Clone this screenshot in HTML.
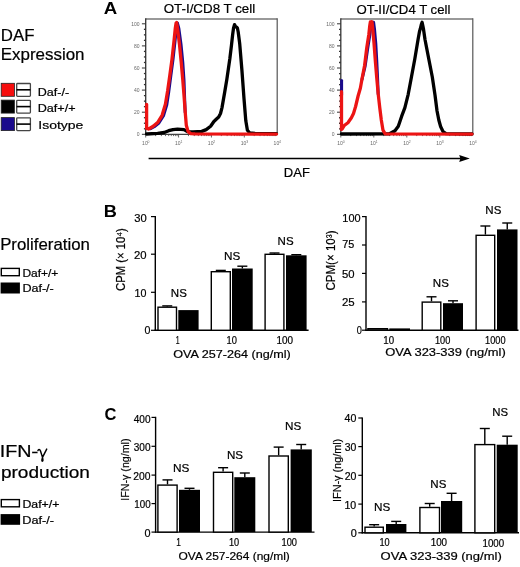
<!DOCTYPE html>
<html><head><meta charset="utf-8"><style>
html,body{margin:0;padding:0;background:#fff;}
body{width:520px;height:567px;overflow:hidden;}
svg{display:block;font-family:"Liberation Sans", sans-serif;will-change:transform;}
</style></head><body>
<svg width="520" height="567" viewBox="0 0 520 567">
<rect width="520" height="567" fill="#fff"/>
<text x="103.73" y="13.8" font-size="17.4" font-weight="bold" textLength="13.47" lengthAdjust="spacingAndGlyphs" fill="#000">A</text>
<text x="163.7" y="13.2" font-size="12.6" textLength="91.52" lengthAdjust="spacingAndGlyphs" fill="#000" stroke="#000" stroke-width="0.2">OT-I/CD8 T cell</text>
<text x="356.41" y="13.7" font-size="12.6" textLength="93.97" lengthAdjust="spacingAndGlyphs" fill="#000" stroke="#000" stroke-width="0.2">OT-II/CD4 T cell</text>
<text x="0.8" y="41.0" font-size="16" textLength="33.67" lengthAdjust="spacingAndGlyphs" fill="#000" stroke="#000" stroke-width="0.2">DAF</text>
<text x="0.75" y="60.2" font-size="15.8" textLength="83.79" lengthAdjust="spacingAndGlyphs" fill="#000" stroke="#000" stroke-width="0.2">Expression</text>
<rect x="1.2" y="83.3" width="13.2" height="13" fill="#f60e0e" stroke="#222" stroke-width="0.8"/>
<rect x="16.7" y="83.5" width="13.7" height="12.8" rx="0.8" fill="#fff" stroke="#444" stroke-width="1.3"/>
<line x1="16.6" x2="30.4" y1="89.8" y2="89.8" stroke="#000" stroke-width="1.6"/>
<rect x="1.2" y="100.1" width="13.2" height="13" fill="#000" stroke="#222" stroke-width="0.8"/>
<rect x="16.7" y="100.3" width="13.7" height="12.8" rx="0.8" fill="#fff" stroke="#444" stroke-width="1.3"/>
<line x1="16.6" x2="30.4" y1="106.6" y2="106.6" stroke="#000" stroke-width="1.6"/>
<rect x="1.2" y="117.6" width="13.2" height="13" fill="#1a0a8c" stroke="#222" stroke-width="0.8"/>
<rect x="16.7" y="117.8" width="13.7" height="12.8" rx="0.8" fill="#fff" stroke="#444" stroke-width="1.3"/>
<line x1="16.6" x2="30.4" y1="124.1" y2="124.1" stroke="#000" stroke-width="1.6"/>
<text x="37.8" y="95.5" font-size="10.6" textLength="31.26" lengthAdjust="spacingAndGlyphs" fill="#000" stroke="#000" stroke-width="0.2">Daf-/-</text>
<text x="37.79" y="112.0" font-size="10.6" textLength="37.8" lengthAdjust="spacingAndGlyphs" fill="#000" stroke="#000" stroke-width="0.2">Daf+/+</text>
<text x="38.24" y="128.8" font-size="11.2" textLength="45.18" lengthAdjust="spacingAndGlyphs" fill="#000" stroke="#000" stroke-width="0.2">Isotype</text>
<line x1="145.7" y1="18.9" x2="277.2" y2="18.9" stroke="#777" stroke-width="1.5"/>
<line x1="277.2" y1="18.2" x2="277.2" y2="134.3" stroke="#555" stroke-width="1.2"/>
<line x1="145.7" y1="18.2" x2="145.7" y2="134.9" stroke="#333" stroke-width="1.3"/>
<line x1="145.1" y1="134.3" x2="277.2" y2="134.3" stroke="#444" stroke-width="1.2"/>
<line x1="141.89999999999998" x2="145.7" y1="134.30" y2="134.30" stroke="#333" stroke-width="1"/>
<text x="139.5" y="136.2" font-size="5.0" text-anchor="end" fill="#666">0</text>
<line x1="143.89999999999998" x2="145.7" y1="128.78" y2="128.78" stroke="#333" stroke-width="1.3"/>
<line x1="143.89999999999998" x2="145.7" y1="123.25" y2="123.25" stroke="#333" stroke-width="1.3"/>
<line x1="143.89999999999998" x2="145.7" y1="117.73" y2="117.73" stroke="#333" stroke-width="1.3"/>
<line x1="141.89999999999998" x2="145.7" y1="112.20" y2="112.20" stroke="#333" stroke-width="1"/>
<text x="139.5" y="114.1" font-size="5.0" text-anchor="end" fill="#666">20</text>
<line x1="143.89999999999998" x2="145.7" y1="106.68" y2="106.68" stroke="#333" stroke-width="1.3"/>
<line x1="143.89999999999998" x2="145.7" y1="101.15" y2="101.15" stroke="#333" stroke-width="1.3"/>
<line x1="143.89999999999998" x2="145.7" y1="95.63" y2="95.63" stroke="#333" stroke-width="1.3"/>
<line x1="141.89999999999998" x2="145.7" y1="90.10" y2="90.10" stroke="#333" stroke-width="1"/>
<text x="139.5" y="92.0" font-size="5.0" text-anchor="end" fill="#666">40</text>
<line x1="143.89999999999998" x2="145.7" y1="84.58" y2="84.58" stroke="#333" stroke-width="1.3"/>
<line x1="143.89999999999998" x2="145.7" y1="79.05" y2="79.05" stroke="#333" stroke-width="1.3"/>
<line x1="143.89999999999998" x2="145.7" y1="73.53" y2="73.53" stroke="#333" stroke-width="1.3"/>
<line x1="141.89999999999998" x2="145.7" y1="68.00" y2="68.00" stroke="#333" stroke-width="1"/>
<text x="139.5" y="69.9" font-size="5.0" text-anchor="end" fill="#666">60</text>
<line x1="143.89999999999998" x2="145.7" y1="62.48" y2="62.48" stroke="#333" stroke-width="1.3"/>
<line x1="143.89999999999998" x2="145.7" y1="56.95" y2="56.95" stroke="#333" stroke-width="1.3"/>
<line x1="143.89999999999998" x2="145.7" y1="51.43" y2="51.43" stroke="#333" stroke-width="1.3"/>
<line x1="141.89999999999998" x2="145.7" y1="45.90" y2="45.90" stroke="#333" stroke-width="1"/>
<text x="139.5" y="47.8" font-size="5.0" text-anchor="end" fill="#666">80</text>
<line x1="143.89999999999998" x2="145.7" y1="40.38" y2="40.38" stroke="#333" stroke-width="1.3"/>
<line x1="143.89999999999998" x2="145.7" y1="34.85" y2="34.85" stroke="#333" stroke-width="1.3"/>
<line x1="143.89999999999998" x2="145.7" y1="29.33" y2="29.33" stroke="#333" stroke-width="1.3"/>
<line x1="141.89999999999998" x2="145.7" y1="23.80" y2="23.80" stroke="#333" stroke-width="1"/>
<text x="139.5" y="25.7" font-size="5.0" text-anchor="end" fill="#666">100</text>
<line x1="145.70" x2="145.70" y1="134.3" y2="137.5" stroke="#444" stroke-width="0.8"/>
<line x1="155.60" x2="155.60" y1="134.3" y2="136.10000000000002" stroke="#444" stroke-width="0.8"/>
<line x1="161.39" x2="161.39" y1="134.3" y2="136.10000000000002" stroke="#444" stroke-width="0.8"/>
<line x1="165.49" x2="165.49" y1="134.3" y2="136.10000000000002" stroke="#444" stroke-width="0.8"/>
<line x1="168.68" x2="168.68" y1="134.3" y2="136.10000000000002" stroke="#444" stroke-width="0.8"/>
<line x1="171.28" x2="171.28" y1="134.3" y2="136.10000000000002" stroke="#444" stroke-width="0.8"/>
<line x1="173.48" x2="173.48" y1="134.3" y2="136.10000000000002" stroke="#444" stroke-width="0.8"/>
<line x1="175.39" x2="175.39" y1="134.3" y2="136.10000000000002" stroke="#444" stroke-width="0.8"/>
<line x1="177.07" x2="177.07" y1="134.3" y2="136.10000000000002" stroke="#444" stroke-width="0.8"/>
<line x1="178.57" x2="178.57" y1="134.3" y2="137.5" stroke="#444" stroke-width="0.8"/>
<line x1="188.47" x2="188.47" y1="134.3" y2="136.10000000000002" stroke="#444" stroke-width="0.8"/>
<line x1="194.26" x2="194.26" y1="134.3" y2="136.10000000000002" stroke="#444" stroke-width="0.8"/>
<line x1="198.37" x2="198.37" y1="134.3" y2="136.10000000000002" stroke="#444" stroke-width="0.8"/>
<line x1="201.55" x2="201.55" y1="134.3" y2="136.10000000000002" stroke="#444" stroke-width="0.8"/>
<line x1="204.16" x2="204.16" y1="134.3" y2="136.10000000000002" stroke="#444" stroke-width="0.8"/>
<line x1="206.36" x2="206.36" y1="134.3" y2="136.10000000000002" stroke="#444" stroke-width="0.8"/>
<line x1="208.26" x2="208.26" y1="134.3" y2="136.10000000000002" stroke="#444" stroke-width="0.8"/>
<line x1="209.95" x2="209.95" y1="134.3" y2="136.10000000000002" stroke="#444" stroke-width="0.8"/>
<line x1="211.45" x2="211.45" y1="134.3" y2="137.5" stroke="#444" stroke-width="0.8"/>
<line x1="221.35" x2="221.35" y1="134.3" y2="136.10000000000002" stroke="#444" stroke-width="0.8"/>
<line x1="227.14" x2="227.14" y1="134.3" y2="136.10000000000002" stroke="#444" stroke-width="0.8"/>
<line x1="231.24" x2="231.24" y1="134.3" y2="136.10000000000002" stroke="#444" stroke-width="0.8"/>
<line x1="234.43" x2="234.43" y1="134.3" y2="136.10000000000002" stroke="#444" stroke-width="0.8"/>
<line x1="237.03" x2="237.03" y1="134.3" y2="136.10000000000002" stroke="#444" stroke-width="0.8"/>
<line x1="239.23" x2="239.23" y1="134.3" y2="136.10000000000002" stroke="#444" stroke-width="0.8"/>
<line x1="241.14" x2="241.14" y1="134.3" y2="136.10000000000002" stroke="#444" stroke-width="0.8"/>
<line x1="242.82" x2="242.82" y1="134.3" y2="136.10000000000002" stroke="#444" stroke-width="0.8"/>
<line x1="244.32" x2="244.32" y1="134.3" y2="137.5" stroke="#444" stroke-width="0.8"/>
<line x1="254.22" x2="254.22" y1="134.3" y2="136.10000000000002" stroke="#444" stroke-width="0.8"/>
<line x1="260.01" x2="260.01" y1="134.3" y2="136.10000000000002" stroke="#444" stroke-width="0.8"/>
<line x1="264.12" x2="264.12" y1="134.3" y2="136.10000000000002" stroke="#444" stroke-width="0.8"/>
<line x1="267.30" x2="267.30" y1="134.3" y2="136.10000000000002" stroke="#444" stroke-width="0.8"/>
<line x1="269.91" x2="269.91" y1="134.3" y2="136.10000000000002" stroke="#444" stroke-width="0.8"/>
<line x1="272.11" x2="272.11" y1="134.3" y2="136.10000000000002" stroke="#444" stroke-width="0.8"/>
<line x1="274.01" x2="274.01" y1="134.3" y2="136.10000000000002" stroke="#444" stroke-width="0.8"/>
<line x1="275.70" x2="275.70" y1="134.3" y2="136.10000000000002" stroke="#444" stroke-width="0.8"/>
<text x="144.9" y="145.1" font-size="5.0" text-anchor="middle" fill="#666">10</text>
<text x="148.5" y="142.7" font-size="3.4" text-anchor="middle" fill="#666">0</text>
<text x="177.77" y="145.1" font-size="5.0" text-anchor="middle" fill="#666">10</text>
<text x="181.38" y="142.7" font-size="3.4" text-anchor="middle" fill="#666">1</text>
<text x="210.65" y="145.1" font-size="5.0" text-anchor="middle" fill="#666">10</text>
<text x="214.25" y="142.7" font-size="3.4" text-anchor="middle" fill="#666">2</text>
<text x="243.52" y="145.1" font-size="5.0" text-anchor="middle" fill="#666">10</text>
<text x="247.12" y="142.7" font-size="3.4" text-anchor="middle" fill="#666">3</text>
<text x="276.4" y="145.1" font-size="5.0" text-anchor="middle" fill="#666">10</text>
<text x="280.0" y="142.7" font-size="3.4" text-anchor="middle" fill="#666">4</text>
<line x1="340.8" y1="19.0" x2="472.8" y2="19.0" stroke="#777" stroke-width="1.5"/>
<line x1="472.8" y1="18.3" x2="472.8" y2="134.3" stroke="#555" stroke-width="1.2"/>
<line x1="340.8" y1="18.3" x2="340.8" y2="134.9" stroke="#333" stroke-width="1.3"/>
<line x1="340.2" y1="134.3" x2="472.8" y2="134.3" stroke="#444" stroke-width="1.2"/>
<line x1="337.0" x2="340.8" y1="134.30" y2="134.30" stroke="#333" stroke-width="1"/>
<text x="334.6" y="136.2" font-size="5.0" text-anchor="end" fill="#666">0</text>
<line x1="339.0" x2="340.8" y1="128.78" y2="128.78" stroke="#333" stroke-width="1.3"/>
<line x1="339.0" x2="340.8" y1="123.25" y2="123.25" stroke="#333" stroke-width="1.3"/>
<line x1="339.0" x2="340.8" y1="117.73" y2="117.73" stroke="#333" stroke-width="1.3"/>
<line x1="337.0" x2="340.8" y1="112.20" y2="112.20" stroke="#333" stroke-width="1"/>
<text x="334.6" y="114.1" font-size="5.0" text-anchor="end" fill="#666">20</text>
<line x1="339.0" x2="340.8" y1="106.68" y2="106.68" stroke="#333" stroke-width="1.3"/>
<line x1="339.0" x2="340.8" y1="101.15" y2="101.15" stroke="#333" stroke-width="1.3"/>
<line x1="339.0" x2="340.8" y1="95.63" y2="95.63" stroke="#333" stroke-width="1.3"/>
<line x1="337.0" x2="340.8" y1="90.10" y2="90.10" stroke="#333" stroke-width="1"/>
<text x="334.6" y="92.0" font-size="5.0" text-anchor="end" fill="#666">40</text>
<line x1="339.0" x2="340.8" y1="84.58" y2="84.58" stroke="#333" stroke-width="1.3"/>
<line x1="339.0" x2="340.8" y1="79.05" y2="79.05" stroke="#333" stroke-width="1.3"/>
<line x1="339.0" x2="340.8" y1="73.53" y2="73.53" stroke="#333" stroke-width="1.3"/>
<line x1="337.0" x2="340.8" y1="68.00" y2="68.00" stroke="#333" stroke-width="1"/>
<text x="334.6" y="69.9" font-size="5.0" text-anchor="end" fill="#666">60</text>
<line x1="339.0" x2="340.8" y1="62.48" y2="62.48" stroke="#333" stroke-width="1.3"/>
<line x1="339.0" x2="340.8" y1="56.95" y2="56.95" stroke="#333" stroke-width="1.3"/>
<line x1="339.0" x2="340.8" y1="51.43" y2="51.43" stroke="#333" stroke-width="1.3"/>
<line x1="337.0" x2="340.8" y1="45.90" y2="45.90" stroke="#333" stroke-width="1"/>
<text x="334.6" y="47.8" font-size="5.0" text-anchor="end" fill="#666">80</text>
<line x1="339.0" x2="340.8" y1="40.38" y2="40.38" stroke="#333" stroke-width="1.3"/>
<line x1="339.0" x2="340.8" y1="34.85" y2="34.85" stroke="#333" stroke-width="1.3"/>
<line x1="339.0" x2="340.8" y1="29.33" y2="29.33" stroke="#333" stroke-width="1.3"/>
<line x1="337.0" x2="340.8" y1="23.80" y2="23.80" stroke="#333" stroke-width="1"/>
<text x="334.6" y="25.7" font-size="5.0" text-anchor="end" fill="#666">100</text>
<line x1="340.80" x2="340.80" y1="134.3" y2="137.5" stroke="#444" stroke-width="0.8"/>
<line x1="350.73" x2="350.73" y1="134.3" y2="136.10000000000002" stroke="#444" stroke-width="0.8"/>
<line x1="356.55" x2="356.55" y1="134.3" y2="136.10000000000002" stroke="#444" stroke-width="0.8"/>
<line x1="360.67" x2="360.67" y1="134.3" y2="136.10000000000002" stroke="#444" stroke-width="0.8"/>
<line x1="363.87" x2="363.87" y1="134.3" y2="136.10000000000002" stroke="#444" stroke-width="0.8"/>
<line x1="366.48" x2="366.48" y1="134.3" y2="136.10000000000002" stroke="#444" stroke-width="0.8"/>
<line x1="368.69" x2="368.69" y1="134.3" y2="136.10000000000002" stroke="#444" stroke-width="0.8"/>
<line x1="370.60" x2="370.60" y1="134.3" y2="136.10000000000002" stroke="#444" stroke-width="0.8"/>
<line x1="372.29" x2="372.29" y1="134.3" y2="136.10000000000002" stroke="#444" stroke-width="0.8"/>
<line x1="373.80" x2="373.80" y1="134.3" y2="137.5" stroke="#444" stroke-width="0.8"/>
<line x1="383.73" x2="383.73" y1="134.3" y2="136.10000000000002" stroke="#444" stroke-width="0.8"/>
<line x1="389.55" x2="389.55" y1="134.3" y2="136.10000000000002" stroke="#444" stroke-width="0.8"/>
<line x1="393.67" x2="393.67" y1="134.3" y2="136.10000000000002" stroke="#444" stroke-width="0.8"/>
<line x1="396.87" x2="396.87" y1="134.3" y2="136.10000000000002" stroke="#444" stroke-width="0.8"/>
<line x1="399.48" x2="399.48" y1="134.3" y2="136.10000000000002" stroke="#444" stroke-width="0.8"/>
<line x1="401.69" x2="401.69" y1="134.3" y2="136.10000000000002" stroke="#444" stroke-width="0.8"/>
<line x1="403.60" x2="403.60" y1="134.3" y2="136.10000000000002" stroke="#444" stroke-width="0.8"/>
<line x1="405.29" x2="405.29" y1="134.3" y2="136.10000000000002" stroke="#444" stroke-width="0.8"/>
<line x1="406.80" x2="406.80" y1="134.3" y2="137.5" stroke="#444" stroke-width="0.8"/>
<line x1="416.73" x2="416.73" y1="134.3" y2="136.10000000000002" stroke="#444" stroke-width="0.8"/>
<line x1="422.55" x2="422.55" y1="134.3" y2="136.10000000000002" stroke="#444" stroke-width="0.8"/>
<line x1="426.67" x2="426.67" y1="134.3" y2="136.10000000000002" stroke="#444" stroke-width="0.8"/>
<line x1="429.87" x2="429.87" y1="134.3" y2="136.10000000000002" stroke="#444" stroke-width="0.8"/>
<line x1="432.48" x2="432.48" y1="134.3" y2="136.10000000000002" stroke="#444" stroke-width="0.8"/>
<line x1="434.69" x2="434.69" y1="134.3" y2="136.10000000000002" stroke="#444" stroke-width="0.8"/>
<line x1="436.60" x2="436.60" y1="134.3" y2="136.10000000000002" stroke="#444" stroke-width="0.8"/>
<line x1="438.29" x2="438.29" y1="134.3" y2="136.10000000000002" stroke="#444" stroke-width="0.8"/>
<line x1="439.80" x2="439.80" y1="134.3" y2="137.5" stroke="#444" stroke-width="0.8"/>
<line x1="449.73" x2="449.73" y1="134.3" y2="136.10000000000002" stroke="#444" stroke-width="0.8"/>
<line x1="455.55" x2="455.55" y1="134.3" y2="136.10000000000002" stroke="#444" stroke-width="0.8"/>
<line x1="459.67" x2="459.67" y1="134.3" y2="136.10000000000002" stroke="#444" stroke-width="0.8"/>
<line x1="462.87" x2="462.87" y1="134.3" y2="136.10000000000002" stroke="#444" stroke-width="0.8"/>
<line x1="465.48" x2="465.48" y1="134.3" y2="136.10000000000002" stroke="#444" stroke-width="0.8"/>
<line x1="467.69" x2="467.69" y1="134.3" y2="136.10000000000002" stroke="#444" stroke-width="0.8"/>
<line x1="469.60" x2="469.60" y1="134.3" y2="136.10000000000002" stroke="#444" stroke-width="0.8"/>
<line x1="471.29" x2="471.29" y1="134.3" y2="136.10000000000002" stroke="#444" stroke-width="0.8"/>
<text x="340.0" y="145.1" font-size="5.0" text-anchor="middle" fill="#666">10</text>
<text x="343.6" y="142.7" font-size="3.4" text-anchor="middle" fill="#666">0</text>
<text x="373.0" y="145.1" font-size="5.0" text-anchor="middle" fill="#666">10</text>
<text x="376.6" y="142.7" font-size="3.4" text-anchor="middle" fill="#666">1</text>
<text x="406.0" y="145.1" font-size="5.0" text-anchor="middle" fill="#666">10</text>
<text x="409.6" y="142.7" font-size="3.4" text-anchor="middle" fill="#666">2</text>
<text x="439.0" y="145.1" font-size="5.0" text-anchor="middle" fill="#666">10</text>
<text x="442.6" y="142.7" font-size="3.4" text-anchor="middle" fill="#666">3</text>
<text x="472.0" y="145.1" font-size="5.0" text-anchor="middle" fill="#666">10</text>
<text x="475.6" y="142.7" font-size="3.4" text-anchor="middle" fill="#666">4</text>
<polyline points="146.5,134.0 157.6,133.4 164.3,132.5 168.7,130.7 173.0,129.6 177.5,129.2 184.0,129.6 187.4,131.6 193.0,131.8 201.8,131.4 206.2,129.6 210.6,126.3 213.9,121.5 216.5,119.0 218.7,117.0 220.5,113.5 222.0,107.6 224.7,92.1 226.9,78.9 229.8,59.0 231.5,45.0 232.6,35.0 233.5,28.2 234.5,24.6 235.5,26.5 236.4,27.1 237.4,28.0 238.2,32.0 239.7,43.6 241.9,70.0 244.0,98.7 245.8,120.8 247.4,130.2 249.6,132.8 255.0,133.4 276.5,133.6" fill="none" stroke="#000" stroke-width="3.3" stroke-linejoin="round" stroke-linecap="round"/>
<polyline points="150.5,128.6 154.2,126.7 158.9,123.0 163.5,115.7 166.8,104.7 168.8,91.5 170.8,76.0 173.0,59.5 175.2,39.6 176.3,28.6 176.9,23.4 177.4,23.0 178.9,28.6 181.0,44.1 182.8,62.4 184.0,80.4 184.6,97.0 185.2,112.4" fill="none" stroke="#1a0a8c" stroke-width="3.0" stroke-linejoin="round" stroke-linecap="round"/>
<polyline points="146.6,104.3 146.6,128.5 148.5,129.0 149.9,128.2 153.2,126.3 157.6,122.6 162.1,115.3 165.4,104.3 167.6,91.1 169.8,75.6 172.0,59.1 174.2,39.2 175.3,28.2 176.1,23.0 176.6,22.6 177.5,28.2 179.4,43.7 181.2,62.0 182.8,80.0 184.1,96.6 185.2,112.0 186.3,125.2 188.1,131.6 190.7,133.6 195.0,133.9 276.5,134.1" fill="none" stroke="#ec1414" stroke-width="3.3" stroke-linejoin="round" stroke-linecap="round"/>
<polyline points="341.5,134.0 389.6,133.8 395.0,130.7 398.3,126.3 401.6,116.4 404.9,107.6 408.2,94.3 411.5,76.7 414.8,59.0 418.1,39.2 419.5,31.5 420.4,28.5 421.3,24.5 422.1,22.3 422.8,25.5 423.4,28.5 425.0,39.5 428.0,55.0 432.3,77.0 435.0,95.0 437.0,110.8 438.8,120.0 440.6,126.5 443.0,131.5 446.0,133.6 472.0,134.0" fill="none" stroke="#000" stroke-width="3.3" stroke-linejoin="round" stroke-linecap="round"/>
<polyline points="341.6,80.4 341.6,95.0" fill="none" stroke="#1a0a8c" stroke-width="3.0" stroke-linejoin="round" stroke-linecap="round"/>
<polyline points="362.0,79.4 365.2,65.9 367.8,47.8 369.8,35.1 371.0,25.9 371.8,22.2 372.8,25.4 373.6,22.2 374.5,28.9 375.8,43.6 376.8,61.9 377.6,78.8 378.2,94.3" fill="none" stroke="#1a0a8c" stroke-width="3.0" stroke-linejoin="round" stroke-linecap="round"/>
<polyline points="341.5,91.7 341.5,129.5 342.2,129.0 344.3,125.5 347.9,122.7 351.4,117.7 353.5,113.5 355.6,106.5 358.1,96.0 360.4,88.0 362.0,79.0 364.6,65.5 366.8,47.4 368.8,34.7 369.8,25.5 370.4,21.8 371.2,25.0 372.0,21.8 372.7,28.5 374.0,43.2 375.4,61.5 376.8,78.4 378.2,93.9 379.8,108.0 381.3,120.0 383.0,130.2 385.2,133.8 472.0,134.1" fill="none" stroke="#ec1414" stroke-width="3.3" stroke-linejoin="round" stroke-linecap="round"/>
<line x1="148.6" y1="158.5" x2="461" y2="158.5" stroke="#000" stroke-width="1.7"/>
<polygon points="459.2,155.0 469.8,158.5 459.2,162.0 460.4,158.5" fill="#000"/>
<text x="283.86" y="177.3" font-size="13.4" textLength="26.06" lengthAdjust="spacingAndGlyphs" fill="#000" stroke="#000" stroke-width="0.2">DAF</text>
<text x="103.72" y="216.8" font-size="17.4" font-weight="bold" textLength="13.14" lengthAdjust="spacingAndGlyphs" fill="#000">B</text>
<text x="0.15" y="249.8" font-size="16.2" textLength="89.76" lengthAdjust="spacingAndGlyphs" fill="#000" stroke="#000" stroke-width="0.2">Proliferation</text>
<rect x="1.3" y="268.4" width="18.0" height="7.3" fill="#fff" stroke="#000" stroke-width="1.4"/>
<rect x="0.6" y="282.5" width="19.3" height="11.0" fill="#000"/>
<text x="22.44" y="276.9" font-size="10.0" textLength="35.92" lengthAdjust="spacingAndGlyphs" fill="#000" stroke="#000" stroke-width="0.2">Daf+/+</text>
<text x="22.4" y="292.1" font-size="10.0" textLength="31.37" lengthAdjust="spacingAndGlyphs" fill="#000" stroke="#000" stroke-width="0.2">Daf-/-</text>
<line x1="155.3" y1="216.0" x2="155.3" y2="330.90000000000003" stroke="#000" stroke-width="1.4"/>
<line x1="154.60000000000002" y1="330.3" x2="308.6" y2="330.3" stroke="#000" stroke-width="1.4"/>
<line x1="151.0" y1="216.6" x2="155.3" y2="216.6" stroke="#000" stroke-width="1.2"/>
<line x1="151.0" y1="254.2" x2="155.3" y2="254.2" stroke="#000" stroke-width="1.2"/>
<line x1="151.0" y1="292.3" x2="155.3" y2="292.3" stroke="#000" stroke-width="1.2"/>
<line x1="151.0" y1="330.3" x2="155.3" y2="330.3" stroke="#000" stroke-width="1.2"/>
<line x1="167.25" y1="306.5" x2="167.25" y2="305.9" stroke="#000" stroke-width="1.4"/>
<line x1="162.25" y1="305.9" x2="172.25" y2="305.9" stroke="#000" stroke-width="1.4"/>
<rect x="158.00" y="307.20" width="18.50" height="23.10" fill="#fff" stroke="#000" stroke-width="1.4"/>
<rect x="178.3" y="310.1" width="20.30" height="20.20" fill="#000"/>
<line x1="220.80" y1="271.0" x2="220.80" y2="270.4" stroke="#000" stroke-width="1.4"/>
<line x1="215.80" y1="270.4" x2="225.80" y2="270.4" stroke="#000" stroke-width="1.4"/>
<rect x="211.30" y="271.70" width="19.00" height="58.60" fill="#fff" stroke="#000" stroke-width="1.4"/>
<line x1="242.35" y1="268.5" x2="242.35" y2="266.2" stroke="#000" stroke-width="1.4"/>
<line x1="237.35" y1="266.2" x2="247.35" y2="266.2" stroke="#000" stroke-width="1.4"/>
<rect x="232.0" y="268.5" width="20.70" height="61.80" fill="#000"/>
<line x1="274.50" y1="253.6" x2="274.50" y2="253.0" stroke="#000" stroke-width="1.4"/>
<line x1="269.50" y1="253.0" x2="279.50" y2="253.0" stroke="#000" stroke-width="1.4"/>
<rect x="265.10" y="254.30" width="18.80" height="76.00" fill="#fff" stroke="#000" stroke-width="1.4"/>
<line x1="296.30" y1="255.3" x2="296.30" y2="254.7" stroke="#000" stroke-width="1.4"/>
<line x1="291.30" y1="254.7" x2="301.30" y2="254.7" stroke="#000" stroke-width="1.4"/>
<rect x="286.0" y="255.3" width="20.60" height="75.00" fill="#000"/>
<text x="134.25" y="221.8" font-size="10.8" textLength="12.47" lengthAdjust="spacingAndGlyphs" fill="#000" stroke="#000" stroke-width="0.2">30</text>
<text x="133.93" y="258.5" font-size="10.8" textLength="12.59" lengthAdjust="spacingAndGlyphs" fill="#000" stroke="#000" stroke-width="0.2">20</text>
<text x="134.6" y="297.3" font-size="10.8" textLength="11.9" lengthAdjust="spacingAndGlyphs" fill="#000" stroke="#000" stroke-width="0.2">10</text>
<text x="144.48" y="334.3" font-size="10.8" textLength="5.91" lengthAdjust="spacingAndGlyphs" fill="#000" stroke="#000" stroke-width="0.2">0</text>
<text x="170.83" y="297.25" font-size="10.8" textLength="15.99" lengthAdjust="spacingAndGlyphs" fill="#000" stroke="#000" stroke-width="0.2">NS</text>
<text x="224.06" y="260.0" font-size="10.8" textLength="16.26" lengthAdjust="spacingAndGlyphs" fill="#000" stroke="#000" stroke-width="0.2">NS</text>
<text x="277.58" y="244.75" font-size="10.8" textLength="15.99" lengthAdjust="spacingAndGlyphs" fill="#000" stroke="#000" stroke-width="0.2">NS</text>
<text x="175.68" y="344.0" font-size="10" textLength="3.84" lengthAdjust="spacingAndGlyphs" fill="#000" stroke="#000" stroke-width="0.2">1</text>
<text x="226.5" y="344.0" font-size="10" textLength="10.34" lengthAdjust="spacingAndGlyphs" fill="#000" stroke="#000" stroke-width="0.2">10</text>
<text x="276.56" y="343.9" font-size="10" textLength="16.52" lengthAdjust="spacingAndGlyphs" fill="#000" stroke="#000" stroke-width="0.2">100</text>
<text x="173.28" y="357.7" font-size="11.2" textLength="117.53" lengthAdjust="spacingAndGlyphs" fill="#000" stroke="#000" stroke-width="0.2">OVA 257-264 (ng/ml)</text>
<text transform="translate(124.60,290.96) rotate(-90)" x="0" y="0" font-size="12" textLength="62.80" lengthAdjust="spacingAndGlyphs" fill="#000" stroke="#000" stroke-width="0.2">CPM (× 10⁴)</text>
<line x1="366.0" y1="216.0" x2="366.0" y2="330.8" stroke="#000" stroke-width="1.4"/>
<line x1="365.3" y1="330.2" x2="518.5" y2="330.2" stroke="#000" stroke-width="1.4"/>
<line x1="362.0" y1="216.6" x2="366.0" y2="216.6" stroke="#000" stroke-width="1.2"/>
<line x1="362.0" y1="245.0" x2="366.0" y2="245.0" stroke="#000" stroke-width="1.2"/>
<line x1="362.0" y1="273.4" x2="366.0" y2="273.4" stroke="#000" stroke-width="1.2"/>
<line x1="362.0" y1="301.9" x2="366.0" y2="301.9" stroke="#000" stroke-width="1.2"/>
<line x1="362.0" y1="330.2" x2="366.0" y2="330.2" stroke="#000" stroke-width="1.2"/>
<rect x="367.90" y="328.70" width="19.60" height="1.50" fill="#fff" stroke="#000" stroke-width="1.4"/>
<rect x="389.3" y="328.4" width="20.70" height="1.80" fill="#000"/>
<line x1="431.50" y1="301.4" x2="431.50" y2="296.8" stroke="#000" stroke-width="1.4"/>
<line x1="426.50" y1="296.8" x2="436.50" y2="296.8" stroke="#000" stroke-width="1.4"/>
<rect x="422.20" y="302.10" width="18.60" height="28.10" fill="#fff" stroke="#000" stroke-width="1.4"/>
<line x1="453.00" y1="303.2" x2="453.00" y2="300.8" stroke="#000" stroke-width="1.4"/>
<line x1="448.00" y1="300.8" x2="458.00" y2="300.8" stroke="#000" stroke-width="1.4"/>
<rect x="443.0" y="303.2" width="20.00" height="27.00" fill="#000"/>
<line x1="485.40" y1="234.6" x2="485.40" y2="226.0" stroke="#000" stroke-width="1.4"/>
<line x1="480.40" y1="226.0" x2="490.40" y2="226.0" stroke="#000" stroke-width="1.4"/>
<rect x="476.10" y="235.30" width="18.60" height="94.90" fill="#fff" stroke="#000" stroke-width="1.4"/>
<line x1="507.25" y1="229.4" x2="507.25" y2="223.0" stroke="#000" stroke-width="1.4"/>
<line x1="502.25" y1="223.0" x2="512.25" y2="223.0" stroke="#000" stroke-width="1.4"/>
<rect x="497.0" y="229.4" width="20.50" height="100.80" fill="#000"/>
<text x="342.38" y="221.9" font-size="10.8" textLength="18.24" lengthAdjust="spacingAndGlyphs" fill="#000" stroke="#000" stroke-width="0.2">100</text>
<text x="342.26" y="248.4" font-size="10.8" textLength="12.1" lengthAdjust="spacingAndGlyphs" fill="#000" stroke="#000" stroke-width="0.2">75</text>
<text x="342.05" y="277.6" font-size="10.8" textLength="12.57" lengthAdjust="spacingAndGlyphs" fill="#000" stroke="#000" stroke-width="0.2">50</text>
<text x="341.93" y="306.3" font-size="10.8" textLength="12.76" lengthAdjust="spacingAndGlyphs" fill="#000" stroke="#000" stroke-width="0.2">25</text>
<text x="356.63" y="334.1" font-size="10.8" textLength="5.1" lengthAdjust="spacingAndGlyphs" fill="#000" stroke="#000" stroke-width="0.2">0</text>
<text x="432.83" y="286.75" font-size="10.8" textLength="15.99" lengthAdjust="spacingAndGlyphs" fill="#000" stroke="#000" stroke-width="0.2">NS</text>
<text x="485.33" y="213.75" font-size="10.8" textLength="15.99" lengthAdjust="spacingAndGlyphs" fill="#000" stroke="#000" stroke-width="0.2">NS</text>
<text x="383.27" y="344.0" font-size="10" textLength="10.79" lengthAdjust="spacingAndGlyphs" fill="#000" stroke="#000" stroke-width="0.2">10</text>
<text x="435.01" y="344.0" font-size="10" textLength="15.34" lengthAdjust="spacingAndGlyphs" fill="#000" stroke="#000" stroke-width="0.2">100</text>
<text x="485.11" y="344.0" font-size="10" textLength="20.41" lengthAdjust="spacingAndGlyphs" fill="#000" stroke="#000" stroke-width="0.2">1000</text>
<text x="385.27" y="355.8" font-size="11.4" textLength="120.47" lengthAdjust="spacingAndGlyphs" fill="#000" stroke="#000" stroke-width="0.2">OVA 323-339 (ng/ml)</text>
<text transform="translate(334.60,290.58) rotate(-90)" x="0" y="0" font-size="12" textLength="60.08" lengthAdjust="spacingAndGlyphs" fill="#000" stroke="#000" stroke-width="0.2">CPM(× 10³)</text>
<text x="104.54" y="420.3" font-size="17.4" font-weight="bold" textLength="11.91" lengthAdjust="spacingAndGlyphs" fill="#000">C</text>
<text x="-0.27" y="457.0" font-size="16.2" textLength="31.77" lengthAdjust="spacingAndGlyphs" fill="#000" stroke="#000" stroke-width="0.2">IFN</text>
<text x="31.24" y="457.0" font-size="16.2" textLength="7.07" lengthAdjust="spacingAndGlyphs" fill="#000" stroke="#000" stroke-width="0.2">-</text>
<path d="M37.9 450.6 C38.4 449.0 39.7 448.9 40.5 451.0 L42.5 457.4 M46.7 449.1 L42.5 457.4 L41.9 460.0 C41.7 461.2 42.7 461.6 42.9 460.5 C43.0 459.5 42.7 458.3 42.5 457.4" fill="none" stroke="#000" stroke-width="1.45" stroke-linejoin="round" stroke-linecap="round"/>
<text x="0.96" y="477.5" font-size="16" textLength="88.88" lengthAdjust="spacingAndGlyphs" fill="#000" stroke="#000" stroke-width="0.2">production</text>
<rect x="1.3" y="499.6" width="18.1" height="7.2" fill="#fff" stroke="#000" stroke-width="1.4"/>
<rect x="0.6" y="514.1" width="19.5" height="10.7" fill="#000"/>
<text x="22.41" y="508.2" font-size="10.0" textLength="36.96" lengthAdjust="spacingAndGlyphs" fill="#000" stroke="#000" stroke-width="0.2">Daf+/+</text>
<text x="22.39" y="523.8" font-size="10.0" textLength="31.69" lengthAdjust="spacingAndGlyphs" fill="#000" stroke="#000" stroke-width="0.2">Daf-/-</text>
<line x1="155.6" y1="416.79999999999995" x2="155.6" y2="532.7" stroke="#000" stroke-width="1.4"/>
<line x1="154.9" y1="532.1" x2="314.5" y2="532.1" stroke="#000" stroke-width="1.4"/>
<line x1="151.5" y1="417.4" x2="155.6" y2="417.4" stroke="#000" stroke-width="1.2"/>
<line x1="151.5" y1="446.3" x2="155.6" y2="446.3" stroke="#000" stroke-width="1.2"/>
<line x1="151.5" y1="475.1" x2="155.6" y2="475.1" stroke="#000" stroke-width="1.2"/>
<line x1="151.5" y1="503.6" x2="155.6" y2="503.6" stroke="#000" stroke-width="1.2"/>
<line x1="151.5" y1="532.1" x2="155.6" y2="532.1" stroke="#000" stroke-width="1.2"/>
<line x1="167.50" y1="484.4" x2="167.50" y2="479.9" stroke="#000" stroke-width="1.4"/>
<line x1="162.50" y1="479.9" x2="172.50" y2="479.9" stroke="#000" stroke-width="1.4"/>
<rect x="157.90" y="485.10" width="19.20" height="47.00" fill="#fff" stroke="#000" stroke-width="1.4"/>
<line x1="189.50" y1="489.8" x2="189.50" y2="488.3" stroke="#000" stroke-width="1.4"/>
<line x1="184.50" y1="488.3" x2="194.50" y2="488.3" stroke="#000" stroke-width="1.4"/>
<rect x="179.0" y="489.8" width="21.00" height="42.30" fill="#000"/>
<line x1="223.10" y1="471.6" x2="223.10" y2="467.7" stroke="#000" stroke-width="1.4"/>
<line x1="218.10" y1="467.7" x2="228.10" y2="467.7" stroke="#000" stroke-width="1.4"/>
<rect x="213.50" y="472.30" width="19.20" height="59.80" fill="#fff" stroke="#000" stroke-width="1.4"/>
<line x1="244.80" y1="477.2" x2="244.80" y2="473.0" stroke="#000" stroke-width="1.4"/>
<line x1="239.80" y1="473.0" x2="249.80" y2="473.0" stroke="#000" stroke-width="1.4"/>
<rect x="234.3" y="477.2" width="21.00" height="54.90" fill="#000"/>
<line x1="278.65" y1="455.3" x2="278.65" y2="447.1" stroke="#000" stroke-width="1.4"/>
<line x1="273.65" y1="447.1" x2="283.65" y2="447.1" stroke="#000" stroke-width="1.4"/>
<rect x="269.00" y="456.00" width="19.30" height="76.10" fill="#fff" stroke="#000" stroke-width="1.4"/>
<line x1="301.20" y1="449.4" x2="301.20" y2="444.5" stroke="#000" stroke-width="1.4"/>
<line x1="296.20" y1="444.5" x2="306.20" y2="444.5" stroke="#000" stroke-width="1.4"/>
<rect x="290.6" y="449.4" width="21.20" height="82.70" fill="#000"/>
<text x="133.7" y="422.6" font-size="10.0" textLength="16.79" lengthAdjust="spacingAndGlyphs" fill="#000" stroke="#000" stroke-width="0.2">400</text>
<text x="133.7" y="450.9" font-size="10.0" textLength="16.79" lengthAdjust="spacingAndGlyphs" fill="#000" stroke="#000" stroke-width="0.2">300</text>
<text x="133.38" y="479.9" font-size="10.0" textLength="17.21" lengthAdjust="spacingAndGlyphs" fill="#000" stroke="#000" stroke-width="0.2">200</text>
<text x="134.27" y="508.2" font-size="10.0" textLength="16.31" lengthAdjust="spacingAndGlyphs" fill="#000" stroke="#000" stroke-width="0.2">100</text>
<text x="144.57" y="536.5" font-size="10.0" textLength="6.03" lengthAdjust="spacingAndGlyphs" fill="#000" stroke="#000" stroke-width="0.2">0</text>
<text x="172.96" y="471.75" font-size="10.8" textLength="16.37" lengthAdjust="spacingAndGlyphs" fill="#000" stroke="#000" stroke-width="0.2">NS</text>
<text x="226.97" y="459.0" font-size="10.8" textLength="16.1" lengthAdjust="spacingAndGlyphs" fill="#000" stroke="#000" stroke-width="0.2">NS</text>
<text x="285.06" y="430.25" font-size="10.8" textLength="16.26" lengthAdjust="spacingAndGlyphs" fill="#000" stroke="#000" stroke-width="0.2">NS</text>
<text x="176.28" y="545.8" font-size="10.2" textLength="4.6" lengthAdjust="spacingAndGlyphs" fill="#000" stroke="#000" stroke-width="0.2">1</text>
<text x="229.01" y="545.8" font-size="10.2" textLength="10.23" lengthAdjust="spacingAndGlyphs" fill="#000" stroke="#000" stroke-width="0.2">10</text>
<text x="281.51" y="545.7" font-size="10.2" textLength="15.45" lengthAdjust="spacingAndGlyphs" fill="#000" stroke="#000" stroke-width="0.2">100</text>
<text x="178.51" y="559.6" font-size="11.2" textLength="111.36" lengthAdjust="spacingAndGlyphs" fill="#000" stroke="#000" stroke-width="0.2">OVA 257-264 (ng/ml)</text>
<text transform="translate(129.00,500.66) rotate(-90)" x="0" y="0" font-size="11.8" textLength="62.13" lengthAdjust="spacingAndGlyphs" fill="#000" stroke="#000" stroke-width="0.2">IFN-γ (ng/ml)</text>
<line x1="362.3" y1="417.4" x2="362.3" y2="533.4" stroke="#000" stroke-width="1.4"/>
<line x1="361.6" y1="532.8" x2="519.0" y2="532.8" stroke="#000" stroke-width="1.4"/>
<line x1="358.3" y1="418.0" x2="362.3" y2="418.0" stroke="#000" stroke-width="1.2"/>
<line x1="358.3" y1="446.6" x2="362.3" y2="446.6" stroke="#000" stroke-width="1.2"/>
<line x1="358.3" y1="475.3" x2="362.3" y2="475.3" stroke="#000" stroke-width="1.2"/>
<line x1="358.3" y1="504.1" x2="362.3" y2="504.1" stroke="#000" stroke-width="1.2"/>
<line x1="358.3" y1="532.8" x2="362.3" y2="532.8" stroke="#000" stroke-width="1.2"/>
<line x1="374.15" y1="526.5" x2="374.15" y2="524.7" stroke="#000" stroke-width="1.4"/>
<line x1="369.15" y1="524.7" x2="379.15" y2="524.7" stroke="#000" stroke-width="1.4"/>
<rect x="365.00" y="527.20" width="18.30" height="5.60" fill="#fff" stroke="#000" stroke-width="1.4"/>
<line x1="396.20" y1="524.0" x2="396.20" y2="521.4" stroke="#000" stroke-width="1.4"/>
<line x1="391.20" y1="521.4" x2="401.20" y2="521.4" stroke="#000" stroke-width="1.4"/>
<rect x="386.0" y="524.0" width="20.40" height="8.80" fill="#000"/>
<line x1="429.70" y1="506.8" x2="429.70" y2="503.5" stroke="#000" stroke-width="1.4"/>
<line x1="424.70" y1="503.5" x2="434.70" y2="503.5" stroke="#000" stroke-width="1.4"/>
<rect x="419.90" y="507.50" width="19.60" height="25.30" fill="#fff" stroke="#000" stroke-width="1.4"/>
<line x1="451.60" y1="501.0" x2="451.60" y2="493.3" stroke="#000" stroke-width="1.4"/>
<line x1="446.60" y1="493.3" x2="456.60" y2="493.3" stroke="#000" stroke-width="1.4"/>
<rect x="441.0" y="501.0" width="21.20" height="31.80" fill="#000"/>
<line x1="484.80" y1="443.9" x2="484.80" y2="428.5" stroke="#000" stroke-width="1.4"/>
<line x1="479.80" y1="428.5" x2="489.80" y2="428.5" stroke="#000" stroke-width="1.4"/>
<rect x="474.90" y="444.60" width="19.80" height="88.20" fill="#fff" stroke="#000" stroke-width="1.4"/>
<line x1="507.20" y1="444.7" x2="507.20" y2="436.2" stroke="#000" stroke-width="1.4"/>
<line x1="502.20" y1="436.2" x2="512.20" y2="436.2" stroke="#000" stroke-width="1.4"/>
<rect x="496.7" y="444.7" width="21.00" height="88.10" fill="#000"/>
<text x="344.59" y="421.8" font-size="10.0" textLength="11.81" lengthAdjust="spacingAndGlyphs" fill="#000" stroke="#000" stroke-width="0.2">40</text>
<text x="344.78" y="450.9" font-size="10.0" textLength="11.61" lengthAdjust="spacingAndGlyphs" fill="#000" stroke="#000" stroke-width="0.2">30</text>
<text x="344.67" y="479.6" font-size="10.0" textLength="11.72" lengthAdjust="spacingAndGlyphs" fill="#000" stroke="#000" stroke-width="0.2">20</text>
<text x="344.4" y="508.5" font-size="10.0" textLength="11.79" lengthAdjust="spacingAndGlyphs" fill="#000" stroke="#000" stroke-width="0.2">10</text>
<text x="350.87" y="537.0" font-size="10.0" textLength="6.03" lengthAdjust="spacingAndGlyphs" fill="#000" stroke="#000" stroke-width="0.2">0</text>
<text x="374.06" y="511.0" font-size="10.8" textLength="16.26" lengthAdjust="spacingAndGlyphs" fill="#000" stroke="#000" stroke-width="0.2">NS</text>
<text x="430.33" y="488.25" font-size="10.8" textLength="15.99" lengthAdjust="spacingAndGlyphs" fill="#000" stroke="#000" stroke-width="0.2">NS</text>
<text x="492.34" y="415.5" font-size="10.8" textLength="15.82" lengthAdjust="spacingAndGlyphs" fill="#000" stroke="#000" stroke-width="0.2">NS</text>
<text x="379.51" y="546.4" font-size="10.2" textLength="10.23" lengthAdjust="spacingAndGlyphs" fill="#000" stroke="#000" stroke-width="0.2">10</text>
<text x="430.66" y="546.4" font-size="10.2" textLength="16.42" lengthAdjust="spacingAndGlyphs" fill="#000" stroke="#000" stroke-width="0.2">100</text>
<text x="482.47" y="546.5" font-size="10.2" textLength="21.67" lengthAdjust="spacingAndGlyphs" fill="#000" stroke="#000" stroke-width="0.2">1000</text>
<text x="380.62" y="559.6" font-size="11.2" textLength="121.13" lengthAdjust="spacingAndGlyphs" fill="#000" stroke="#000" stroke-width="0.2">OVA 323-339 (ng/ml)</text>
<text transform="translate(340.60,501.97) rotate(-90)" x="0" y="0" font-size="11.8" textLength="63.16" lengthAdjust="spacingAndGlyphs" fill="#000" stroke="#000" stroke-width="0.2">IFN-γ (ng/ml)</text>
</svg>
</body></html>
